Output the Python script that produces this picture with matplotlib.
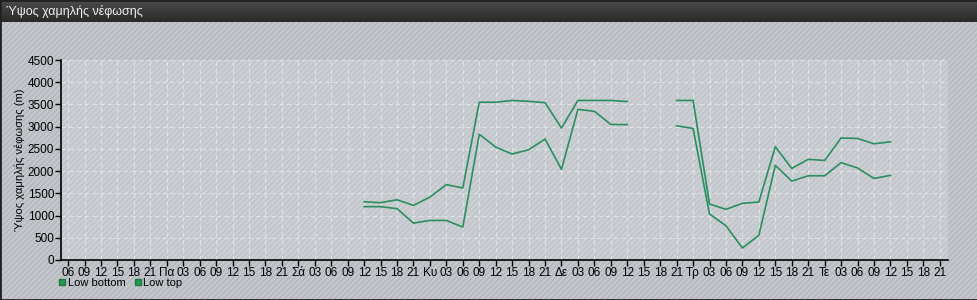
import numpy as np
import matplotlib.pyplot as plt
from matplotlib.patches import Rectangle
from matplotlib.lines import Line2D

plt.rcParams['font.family'] = ['Liberation Sans', 'DejaVu Sans']
plt.rcParams['hatch.linewidth'] = 0.7

# tick labels, one every 3 hours
tick_labels = ['06', '09', '12', '15', '18', '21',
               'Πα', '03', '06', '09', '12', '15', '18', '21',
               'Σά', '03', '06', '09', '12', '15', '18', '21',
               'Κυ', '03', '06', '09', '12', '15', '18', '21',
               'Δε', '03', '06', '09', '12', '15', '18', '21',
               'Τρ', '03', '06', '09', '12', '15', '18', '21',
               'Τε', '03', '06', '09', '12', '15', '18', '21']

nan = np.nan
# values from slot 18 (Σά 12) to slot 50 (Τε 12), gaps as nan
low_bottom = [1200, 1200, 1155, 830, 890, 890, 740,
              2830, 2540, 2385, 2480, 2720, 2040, 3390, 3345, 3050, 3045,
              nan, nan,
              3020, 2960, 1035, 770, 270, 555, 2130, 1775, 1895, 1895,
              2190, 2070, 1835, 1905]
low_top = [1310, 1290, 1355, 1230, 1415, 1695, 1620,
           3550, 3550, 3590, 3570, 3540, 2970, 3590, 3590, 3590, 3565,
           nan, nan,
           3590, 3590, 1260, 1140, 1275, 1305, 2550, 2060, 2265, 2240,
           2745, 2735, 2615, 2660]
start_slot = 18

x_all = np.arange(len(tick_labels))
xs = np.arange(start_slot, start_slot + len(low_bottom))

fig = plt.figure(figsize=(9.78, 3.0), dpi=100)
fig.patch.set_facecolor('#c2c6cb')

# striped background
bg = Rectangle((0, 0), 1, 1, transform=fig.transFigure, facecolor='#c3c7cc',
               edgecolor='#adb1b8', hatch='//////', linewidth=0, zorder=-10)
fig.patches.append(bg)

# dark title bar
grad = np.linspace(0, 1, 50).reshape(-1, 1)
tax = fig.add_axes([0, 1 - 22 / 300, 1, 22 / 300])
tax.imshow(grad, aspect='auto', cmap=plt.matplotlib.colors.LinearSegmentedColormap.from_list(
    'bar', ['#4c4c4c', '#2a2a2a']), extent=[0, 1, 0, 1])
tax.set_axis_off()
tax.text(0.006, 0.5, 'Ύψος χαμηλής νέφωσης', color='#f0f0f0', fontsize=9,
         va='center', ha='left', transform=tax.transAxes)

# outer border
fig.patches.append(Rectangle((0, 0), 1, 1, transform=fig.transFigure, fill=False,
                             edgecolor='#222222', linewidth=2, zorder=10))

ax = fig.add_axes([61 / 978, 40 / 300, 887 / 978, 200 / 300])
ax.set_facecolor((0.88, 0.89, 0.91, 0.3))

ax.plot(xs, low_bottom, color='#2a8f5e', linewidth=1.2)
ax.plot(xs, low_top, color='#2a8f5e', linewidth=1.2)

ax.set_xlim(-0.43, len(tick_labels) - 0.5)
ax.set_ylim(0, 4500)
ax.set_yticks(np.arange(0, 4501, 500))
ax.set_xticks(x_all)
ax.set_xticklabels(tick_labels)
ax.tick_params(axis='both', labelsize=8.5, length=4, width=1, color='black', pad=1)
ax.grid(True, color='#f2f3f5', linestyle=(0, (4, 3)), linewidth=0.8, alpha=0.6)
for s in ['top', 'right']:
    ax.spines[s].set_visible(False)
for s in ['left', 'bottom']:
    ax.spines[s].set_linewidth(1.2)
ax.set_ylabel('Ύψος χαμηλής νέφωσης (m)', fontsize=8, labelpad=2)

handles = [Line2D([], [], marker='s', linestyle='none', markersize=5,
                  markerfacecolor='#1f9a50', markeredgecolor='#1a7a40'),
           Line2D([], [], marker='s', linestyle='none', markersize=5,
                  markerfacecolor='#1f9a50', markeredgecolor='#1a7a40')]
fig.legend(handles, ['Low bottom', 'Low top'], loc='lower left',
           bbox_to_anchor=(59 / 978, 12 / 300), ncol=2, frameon=False,
           fontsize=8, handlelength=0.6, handletextpad=0.2, columnspacing=0.8,
           borderaxespad=0, borderpad=0)

fig.savefig('out.png', dpi=100, facecolor=fig.get_facecolor())
